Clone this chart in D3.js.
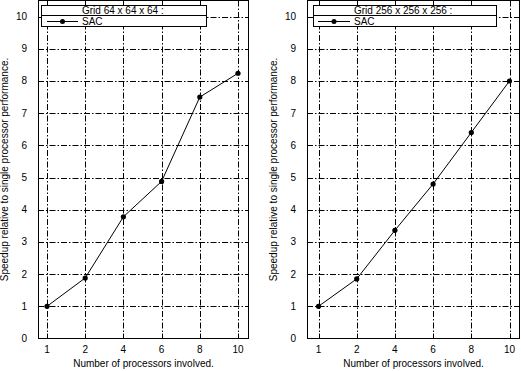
<!DOCTYPE html>
<html>
<head>
<meta charset="utf-8">
<script src="https://cdn.jsdelivr.net/npm/d3@7"></script>
<style>
  body { margin: 0; background: #fff; }
  svg { display: block; font-family: "Liberation Sans", Arial, sans-serif; }
</style>
</head>
<body>
<svg class="view" width="521" height="371"></svg>
<script>
var procs = [1, 2, 4, 6, 8, 10];
var speedup64 = [1.0, 1.88, 3.78, 4.88, 7.5, 8.24];
var speedup256 = [1.0, 1.85, 3.36, 4.8, 6.4, 8.0];
var yTicks = [0, 1, 2, 3, 4, 5, 6, 7, 8, 9, 10];
var titles = ['Grid 64 x 64 x 64 :', 'Grid 256 x 256 x 256 :'];
var seriesName = 'SAC';
var yLabel = 'Speedup relative to single processor performance.';
var xLabel = 'Number of processors involved.';

var svg = d3.select('.view');

var panels = [
    {left: 38, right: 249, p0: 47, p1: 238, values: speedup64, title: titles[0],
     box: [41, 206], key: [47, 78]},
    {left: 307, right: 520, p0: 318.5, p1: 509.5, values: speedup256, title: titles[1],
     box: [313, 496], key: [318, 350]}
];

var plotTop = 0.5, plotBottom = 338.5;
var dash = '6,2,1.5,2';

panels.forEach(function (p) {
    var g = svg.append('g');
    var x = d3.scalePoint().domain(procs).range([p.p0, p.p1]);
    var y = d3.scaleLinear().domain([0, 10.5]).range([plotBottom, plotTop]);

    // grid
    g.selectAll('.hgrid')
        .data(yTicks.slice(1))
        .enter().append('line')
        .attr('x1', p.left).attr('x2', p.right)
        .attr('y1', function (d) { return Math.round(y(d)) + 0.5; })
        .attr('y2', function (d) { return Math.round(y(d)) + 0.5; })
        .attr('stroke', '#000').attr('stroke-dasharray', dash);
    g.selectAll('.vgrid')
        .data(procs)
        .enter().append('line')
        .attr('x1', function (d) { return Math.round(x(d)) + 0.5; })
        .attr('x2', function (d) { return Math.round(x(d)) + 0.5; })
        .attr('y1', plotTop).attr('y2', plotBottom)
        .attr('stroke', '#000').attr('stroke-dasharray', dash);

    // ticks on top and bottom
    procs.forEach(function (d) {
        var xx = Math.round(x(d)) + 0.5;
        g.append('line').attr('x1', xx).attr('x2', xx).attr('y1', plotBottom).attr('y2', plotBottom - 5)
            .attr('stroke', '#000');
        g.append('line').attr('x1', xx).attr('x2', xx).attr('y1', plotTop).attr('y2', plotTop + 5)
            .attr('stroke', '#000');
    });

    // frame
    g.append('rect')
        .attr('x', p.left + 0.5).attr('y', plotTop)
        .attr('width', p.right - p.left - 1).attr('height', plotBottom - plotTop)
        .attr('fill', 'none').attr('stroke', '#000');

    // tick labels
    g.selectAll('.ylab')
        .data(yTicks)
        .enter().append('text')
        .attr('x', p.left - 11)
        .attr('y', function (d) { return y(d) + 3.5; })
        .attr('text-anchor', 'end')
        .attr('font-size', 10)
        .text(function (d) { return d; });
    g.selectAll('.xlab')
        .data(procs)
        .enter().append('text')
        .attr('x', function (d) { return x(d); })
        .attr('y', 353)
        .attr('text-anchor', 'middle')
        .attr('font-size', 10)
        .text(function (d) { return d; });

    // axis labels
    g.append('text')
        .attr('x', (p.left + p.right) / 2)
        .attr('y', 367)
        .attr('text-anchor', 'middle')
        .attr('font-size', 10)
        .text(xLabel);
    g.append('text')
        .attr('transform', 'translate(' + (p.left - 30) + ',' + ((plotTop + plotBottom) / 2) + ') rotate(-90)')
        .attr('text-anchor', 'middle')
        .attr('font-size', 10)
        .text(yLabel);

    // series
    var line = d3.line()
        .x(function (d, i) { return x(procs[i]); })
        .y(function (d) { return y(d); });
    g.append('path')
        .datum(p.values)
        .attr('d', line)
        .attr('fill', 'none')
        .attr('stroke', '#000');
    g.selectAll('.pt')
        .data(p.values)
        .enter().append('circle')
        .attr('cx', function (d, i) { return x(procs[i]); })
        .attr('cy', function (d) { return y(d); })
        .attr('r', 2.6)
        .attr('fill', '#000');

    // legend
    var lg = g.append('g');
    lg.append('rect')
        .attr('x', p.box[0] + 0.5).attr('y', 5.5)
        .attr('width', p.box[1] - p.box[0]).attr('height', 21)
        .attr('fill', '#fff').attr('stroke', '#000');
    lg.append('line')
        .attr('x1', p.box[0] + 0.5).attr('x2', p.box[1] + 0.5)
        .attr('y1', 15.5).attr('y2', 15.5)
        .attr('stroke', '#000');
    lg.append('text')
        .attr('x', p.key[1] + 4).attr('y', 13.5)
        .attr('font-size', 10)
        .text(p.title);
    lg.append('line')
        .attr('x1', p.key[0]).attr('x2', p.key[1])
        .attr('y1', 21.5).attr('y2', 21.5)
        .attr('stroke', '#000');
    lg.append('circle')
        .attr('cx', (p.key[0] + p.key[1]) / 2).attr('cy', 21.5)
        .attr('r', 2.5).attr('fill', '#000');
    lg.append('text')
        .attr('x', p.key[1] + 4).attr('y', 25)
        .attr('font-size', 10)
        .text(seriesName);
});
</script>
</body>
</html>
